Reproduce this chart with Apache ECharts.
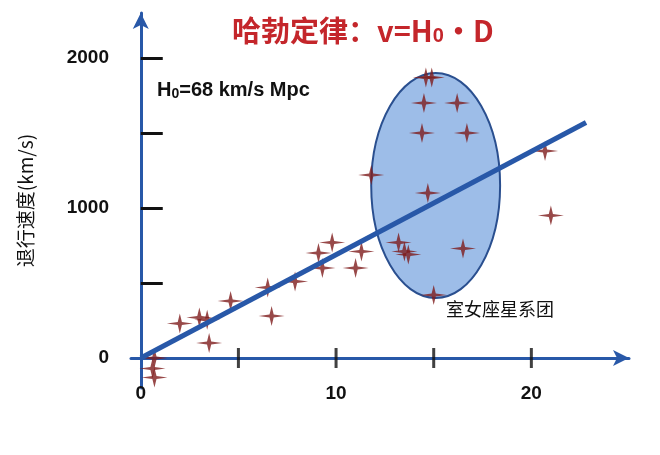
<!DOCTYPE html>
<html lang="zh">
<head>
<meta charset="UTF-8">
<title>Hubble</title>
<style>
  html, body { margin: 0; padding: 0; background: #fff; }
  #chart { width: 660px; height: 455px; }
</style>
</head>
<body>
<div id="chart"></div>
<script src="https://cdn.jsdelivr.net/npm/echarts@6/dist/echarts.min.js"></script>
<script>
// galaxies: distance (Mpc), velocity (km/s)
var distance = [0.7, 0.6, 0.7, 2.0, 3.0, 3.4, 3.5, 4.6, 6.5, 6.7, 7.9, 9.1, 9.3, 9.8, 11.0, 11.3, 11.8,
                13.2, 13.5, 13.7, 14.4, 14.5, 14.6, 14.9, 14.7, 15.0, 16.2, 16.7, 16.5, 20.7, 21.0];
var velocity = [0, -70, -130, 230, 270, 255, 100, 380, 470, 280, 510, 700, 600, 770, 600, 710, 1220,
                770, 710, 690, 1500, 1700, 1870, 1870, 1100, 420, 1700, 1500, 730, 1380, 950];
var fitLine = [[0, 0], [22.8, 1570]];
var xTicks = [5, 10, 15, 20];
var yTicks = [500, 1000, 1500, 2000];
var yLabels = [0, 1000, 2000];
var cluster = { cx: 15.1, cy: 1150, rx: 3.3, ry: 750 };

var blue = '#2858a8';
var star = 'path://M50,0 L58,42 L100,50 L58,58 L50,100 L42,58 L0,50 L42,42 Z';

var chart = echarts.init(document.getElementById('chart'));
chart.setOption({
  animation: false,
  grid: { left: 131, right: 31, top: 13, bottom: 67 },
  xAxis: {
    type: 'value', min: -0.5, max: 25, interval: 5,
    axisLine: { onZero: true, lineStyle: { color: blue, width: 3 }, symbol: ['none', 'arrow'], symbolSize: [12, 16] },
    axisTick: { show: false },
    splitLine: { show: false },
    axisLabel: {
      customValues: [0, 10, 20], margin: -4,
      color: '#111', fontSize: 19, fontWeight: 'bold', fontFamily: 'Liberation Sans'
    }
  },
  yAxis: {
    type: 'value', min: -200, max: 2300,
    name: '退行速度(km/s)', nameLocation: 'middle', nameGap: 96, nameRotate: 90,
    nameTextStyle: { color: '#111', fontSize: 19, fontFamily: 'Noto Sans CJK SC' },
    axisLine: { onZero: true, lineStyle: { color: blue, width: 3 }, symbol: ['none', 'arrow'], symbolSize: [12, 16] },
    axisTick: { customValues: yTicks, inside: true, length: 22, lineStyle: { color: '#111', width: 3 } },
    splitLine: { show: false },
    axisLabel: {
      customValues: yLabels, margin: 22, formatter: function (v) { return String(v); },
      color: '#111', fontSize: 19, fontWeight: 'bold', fontFamily: 'Liberation Sans'
    }
  },
  series: [
    {
      type: 'custom', silent: true, z: 1,
      renderItem: function (params, api) {
        var c = api.coord([cluster.cx, cluster.cy]);
        var e = api.coord([cluster.cx + cluster.rx, cluster.cy + cluster.ry]);
        return {
          type: 'ellipse',
          shape: { cx: c[0], cy: c[1], rx: e[0] - c[0], ry: c[1] - e[1] },
          style: { fill: '#9dbde8', stroke: '#2a4f8f', lineWidth: 2 }
        };
      },
      data: [[cluster.cx, cluster.cy]]
    },
    {
      type: 'scatter', silent: true, z: 3,
      symbol: 'rect', symbolSize: [3, 20],
      itemStyle: { color: '#111' },
      data: xTicks.map(function (v) { return [v, 0]; })
    },
    {
      type: 'scatter', z: 4,
      symbol: star, symbolSize: [26, 20],
      itemStyle: { color: '#7e1c1c' },
      data: distance.map(function (d, i) { return [d, velocity[i]]; })
    },
    {
      type: 'line', z: 5, symbol: 'none',
      lineStyle: { color: blue, width: 5 },
      data: fitLine
    }
  ],
  graphic: [
    {
      type: 'text', left: 232, top: 16,
      style: {
        text: '哈勃定律：v=H{s|0}・D',
        fill: '#c4262b', font: 'bold 29px "Noto Sans CJK SC"',
        rich: { s: { fontSize: 20, fill: '#c4262b', fontWeight: 'bold', padding: [12, 0, 0, 0] } }
      }
    },
    {
      type: 'text', left: 157, top: 80,
      style: {
        text: 'H{s|0}=68 km/s Mpc',
        fill: '#111', font: 'bold 20px "Liberation Sans"',
        rich: { s: { fontSize: 14, fill: '#111', fontWeight: 'bold', padding: [8, 0, 0, 0] } }
      }
    },
    {
      type: 'text', left: 446, top: 300,
      style: { text: '室女座星系团', fill: '#111', font: '18px "Noto Sans CJK SC"' }
    }
  ]
});
</script>
</body>
</html>
